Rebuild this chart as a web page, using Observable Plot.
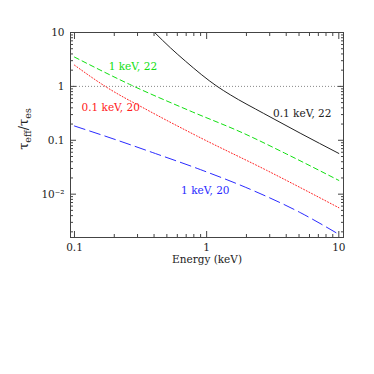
<!DOCTYPE html>
<html><head><meta charset="utf-8">
<script src="https://cdn.jsdelivr.net/npm/d3@7"></script>
<script src="https://cdn.jsdelivr.net/npm/@observablehq/plot@0.6"></script>
<style>body{margin:0;background:#fff}</style>
</head><body><div id="chart"></div>
<script>
// Data (Energy in keV, tau_eff / tau_es)
const energyBlack22 = [0.404, 0.531, 0.69, 1.2, 1.51, 2.7, 5.1, 10];
const tauBlack22    = [10, 5.22, 2.95, 1.0, 0.698, 0.315, 0.1355, 0.057];
const energyGreen22 = [0.1, 0.27, 0.75, 1.9, 4, 10];
const tauGreen22    = [3.5, 1.05, 0.35, 0.135, 0.056, 0.018];
const energyRed20   = [0.1, 0.171, 0.375, 0.845, 2.86, 10];
const tauRed20      = [2.48, 1.0, 0.34, 0.12, 0.0275, 0.0056];
const energyBlue20  = [0.1, 0.204, 0.41, 0.896, 2.14, 5.1, 10];
const tauBlue20     = [0.184, 0.103, 0.0567, 0.0286, 0.0123, 0.00456, 0.0018];

const seriesLabels = ["0.1 keV, 22", "1 keV, 22", "0.1 keV, 20", "1 keV, 20"];
const labelEnergy  = [3.18, 0.1816, 0.113, 0.641];
const labelTau     = [0.313, 2.28, 0.40, 0.01156];

const xMajor = [0.1, 1, 10];
const xTickLabels = ["0.1", "1", "10"];
const xMinor = [0.2,0.3,0.4,0.5,0.6,0.7,0.8,0.9,2,3,4,5,6,7,8,9];
const yMajor = [0.01, 0.1, 1, 10];
const yTickLabels = ["10⁻²", "0.1", "1", "10"];
const yMinor = [0.002,0.003,0.004,0.005,0.006,0.007,0.008,0.009,
                0.02,0.03,0.04,0.05,0.06,0.07,0.08,0.09,
                0.2,0.3,0.4,0.5,0.6,0.7,0.8,0.9,
                2,3,4,5,6,7,8,9];

const toRows = (E, T) => E.map((e, i) => ({E: e, T: T[i]}));
const series = [
  {rows: toRows(energyBlack22, tauBlack22), stroke: "#222", dash: null},
  {rows: toRows(energyGreen22, tauGreen22), stroke: "#11e011", dash: "5,3.5"},
  {rows: toRows(energyRed20, tauRed20), stroke: "#ff2020", dash: "1,2"},
  {rows: toRows(energyBlue20, tauBlue20), stroke: "#2a2aff", dash: "11,5"}
];
const labelRows = seriesLabels.map((t, i) => ({t, E: labelEnergy[i], T: labelTau[i], c: series[i].stroke}));

const font = "DejaVu Serif";
const frameColor = "#444";

const tickAxes = [];
for (const anchor of ["bottom", "top"]) {
  tickAxes.push(Plot.axisX({anchor, ticks: xMajor, tickSize: -6, tickFormat: () => "", label: null, stroke: frameColor}));
  tickAxes.push(Plot.axisX({anchor, ticks: xMinor, tickSize: -3, tickFormat: () => "", label: null, stroke: frameColor}));
}
for (const anchor of ["left", "right"]) {
  tickAxes.push(Plot.axisY({anchor, ticks: yMajor, tickSize: -6, tickFormat: () => "", label: null, stroke: frameColor}));
  tickAxes.push(Plot.axisY({anchor, ticks: yMinor, tickSize: -3, tickFormat: () => "", label: null, stroke: frameColor}));
}

const plot = Plot.plot({
  width: 374, height: 374,
  marginLeft: 70, marginRight: 31, marginTop: 32, marginBottom: 137,
  style: {fontFamily: font, fontSize: "10.5px", background: "white", color: "#222"},
  x: {type: "log", domain: [0.0933, 10.85]},
  y: {type: "log", domain: [0.00157, 10]},
  marks: [
    Plot.ruleY([1], {stroke: "#888", strokeDasharray: "1,2"}),
    ...series.map(s => Plot.line(s.rows, {x: "E", y: "T", stroke: s.stroke, strokeWidth: 1, strokeDasharray: s.dash, curve: "monotone-x", clip: true})),
    ...labelRows.map(r => Plot.text([r], {x: "E", y: "T", text: "t", fill: r.c, textAnchor: "start", fontSize: 10.5})),
    Plot.frame({stroke: frameColor}),
    ...tickAxes,
    Plot.axisX({anchor: "bottom", ticks: xMajor, tickSize: 0, tickPadding: 6, tickFormat: d => xTickLabels[xMajor.indexOf(d)], label: null}),
    Plot.axisY({anchor: "left", ticks: yMajor, tickSize: 0, tickPadding: 6, tickFormat: d => yTickLabels[yMajor.indexOf(d)], label: null}),
    Plot.text(["Energy (keV)"], {frameAnchor: "bottom", dy: 25, text: d => d, fontSize: 10.5})
  ]
});

const svg = d3.select(plot);
const yl = svg.append("text")
  .attr("transform", "translate(28,129) rotate(-90)")
  .attr("text-anchor", "middle")
  .attr("font-family", font)
  .attr("font-size", 13)
  .attr("fill", "#222");
yl.append("tspan").text("τ");
yl.append("tspan").text("eff").attr("font-size", 9.5).attr("dy", 3);
yl.append("tspan").text("/").attr("dy", -3);
yl.append("tspan").text("τ");
yl.append("tspan").text("es").attr("font-size", 9.5).attr("dy", 3);

document.getElementById("chart").appendChild(plot);
</script>
</body></html>
